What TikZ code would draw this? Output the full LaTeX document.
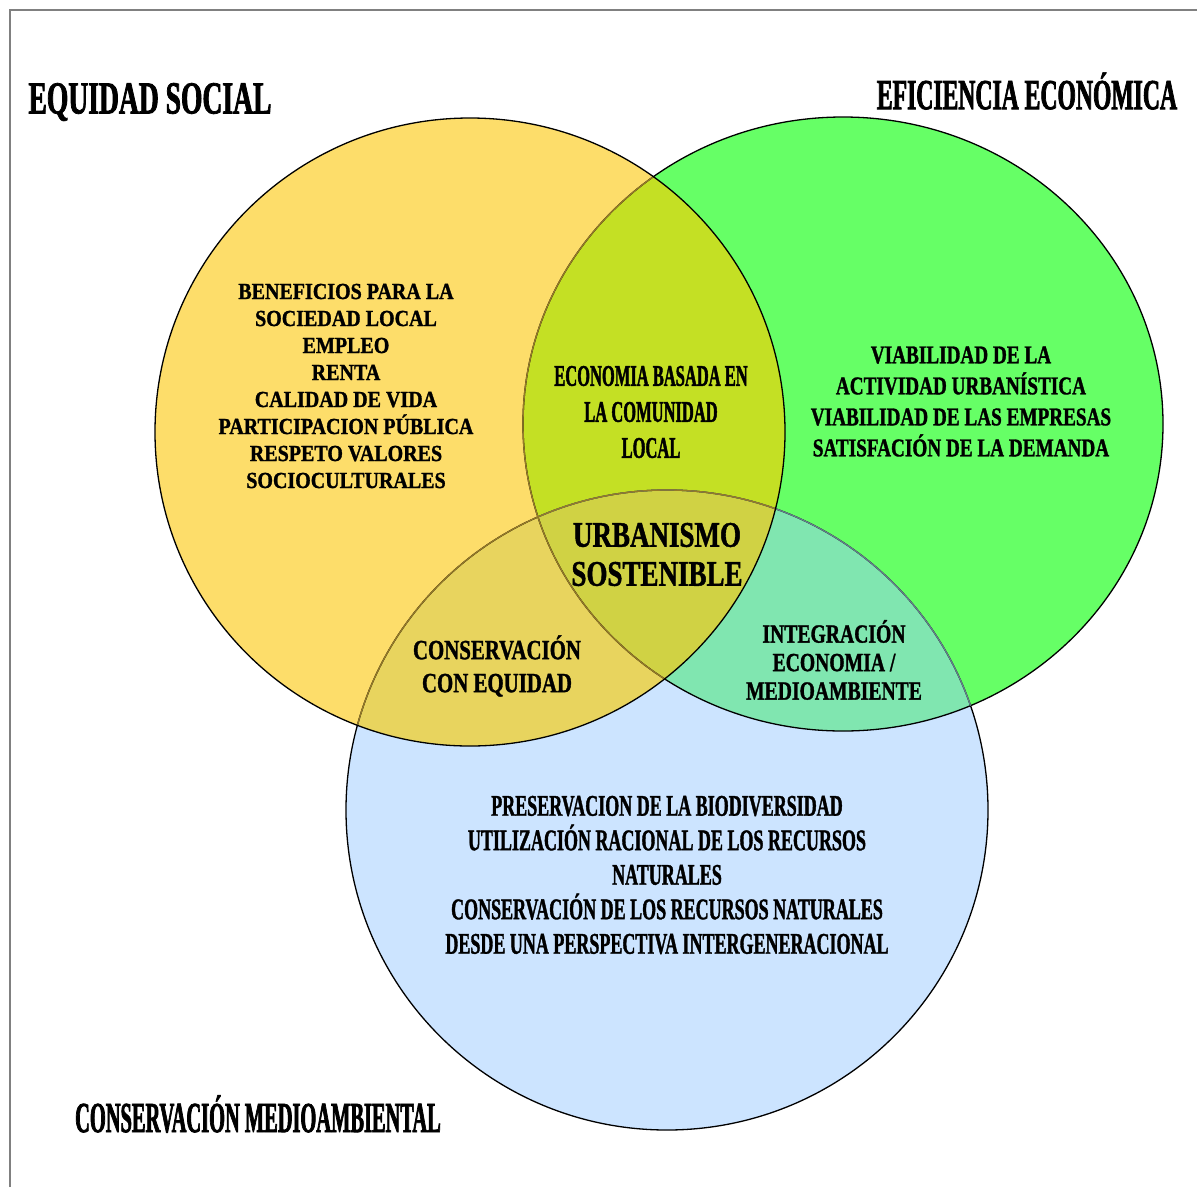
\documentclass[tikz,border=0pt]{standalone}
\usepackage{fontspec}
\setmainfont{Liberation Serif}
\newfontfamily\fsA[FakeStretch=0.475,FakeBold=1.6]{Liberation Serif}
\newfontfamily\fsB[FakeStretch=0.55,FakeBold=1.4]{Liberation Serif}
\newfontfamily\fsBt[FakeStretch=0.55,FakeBold=1.6]{Liberation Serif}
\newfontfamily\fsC[FakeStretch=0.60,FakeBold=1.2]{Liberation Serif}
\newfontfamily\fsCt[FakeStretch=0.60,FakeBold=1.6]{Liberation Serif}
\newfontfamily\fsD[FakeStretch=0.75,FakeBold=1.2]{Liberation Serif}
\newfontfamily\fsE[FakeStretch=0.87,FakeBold=1.2]{Liberation Serif}
\definecolor{cY}{RGB}{253,221,106}
\definecolor{cG}{RGB}{102,255,102}
\definecolor{cB}{RGB}{204,228,255}
\definecolor{cYG}{RGB}{196,224,36}
\definecolor{cYB}{RGB}{232,212,94}
\definecolor{cGB}{RGB}{128,230,176}
\definecolor{cYGB}{RGB}{208,210,68}
\definecolor{lnBrown}{RGB}{150,122,40}
\definecolor{lnGray}{RGB}{100,128,140}
\definecolor{frameGray}{RGB}{128,128,128}
\def\pathY{(470,432) ellipse [x radius=315, y radius=314]}
\def\pathG{(843,424) ellipse [x radius=320, y radius=307]}
\def\pathB{(667,810) ellipse [x radius=321, y radius=320]}
\begin{document}
\begin{tikzpicture}[x=1pt,y=-1pt,
  outl/.style={line width=1.3pt},
  txt/.style={align=center, inner sep=0pt, text=black}]
\useasboundingbox (0,0) rectangle (1197,1187);
\fill[white] (0,0) rectangle (1197,1187);
\draw[frameGray, line width=2pt] (10,1187) -- (10,10) -- (1197,10);
% region fills
\fill[cY] \pathY;
\fill[cG] \pathG;
\fill[cB] \pathB;
\begin{scope}\clip \pathY; \fill[cYG] \pathG; \end{scope}
\begin{scope}\clip \pathY; \fill[cYB] \pathB; \end{scope}
\begin{scope}\clip \pathG; \fill[cGB] \pathB; \end{scope}
\begin{scope}\clip \pathY; \clip \pathG; \fill[cYGB] \pathB; \end{scope}
% outlines
\draw[outl, black] \pathB;
\draw[outl, black] \pathG;
\begin{scope}\clip \pathG; \draw[outl, lnGray] \pathB; \end{scope}
\begin{scope}\clip \pathY; \draw[outl, lnBrown] \pathB; \draw[outl, lnBrown] \pathG; \end{scope}
\draw[outl, black] \pathY;
% titles
\node[txt, font=\fsCt\bfseries\fontsize{46}{50}\selectfont] (tES) at (150,102) {EQUIDAD SOCIAL};
\node[txt, font=\fsBt\bfseries\fontsize{43}{48}\selectfont] (tEE) at (1027,91) {EFICIENCIA ECONÓMICA};
\node[txt, font=\fsA\bfseries\fontsize{43}{48}\selectfont] (tCM) at (258,1114) {CONSERVACIÓN MEDIOAMBIENTAL};
% texts
\node[txt, font=\fsE\bfseries\fontsize{23}{27}\selectfont] (tY) at (346,386) {BENEFICIOS PARA LA\\SOCIEDAD LOCAL\\EMPLEO\\RENTA\\CALIDAD DE VIDA\\PARTICIPACION PÚBLICA\\RESPETO VALORES\\SOCIOCULTURALES};
\node[txt, font=\fsB\bfseries\fontsize{30}{36}\selectfont] (tYG) at (651,412) {ECONOMIA BASADA EN\\LA COMUNIDAD\\LOCAL};
\node[txt, font=\fsD\bfseries\fontsize{25.6}{31}\selectfont] (tG) at (961,401.5) {VIABILIDAD DE LA\\ACTIVIDAD URBANÍSTICA\\VIABILIDAD DE LAS EMPRESAS\\SATISFACIÓN DE LA DEMANDA};
\node[txt, font=\fsD\bfseries\fontsize{36}{39}\selectfont] (tC) at (657,554.5) {URBANISMO\\SOSTENIBLE};
\node[txt, font=\fsD\bfseries\fontsize{27.8}{33}\selectfont] (tYB) at (497,666) {CONSERVACIÓN\\CON EQUIDAD};
\node[txt, font=\fsD\bfseries\fontsize{26.2}{28.5}\selectfont] (tGB) at (834,660) {INTEGRACIÓN\\ECONOMIA /\\MEDIOAMBIENTE};
\node[txt, font=\fsC\bfseries\fontsize{30}{34.5}\selectfont] (tB) at (667,875) {PRESERVACION DE LA BIODIVERSIDAD\\UTILIZACIÓN RACIONAL DE LOS RECURSOS\\NATURALES\\CONSERVACIÓN DE LOS RECURSOS NATURALES\\DESDE UNA PERSPECTIVA INTERGENERACIONAL};
\end{tikzpicture}
\end{document}
